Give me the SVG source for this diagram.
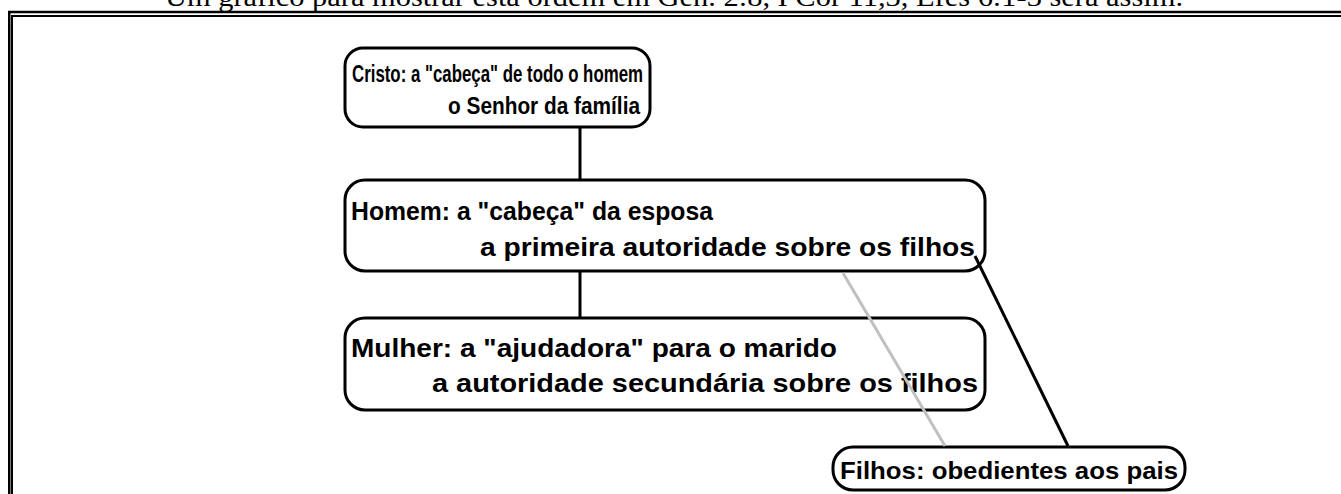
<svg xmlns="http://www.w3.org/2000/svg" width="1341" height="494" viewBox="0 0 1341 494">
<style>
.box{fill:#fff;stroke:#000;stroke-width:3}
.t{font-family:"Liberation Sans",Arial,sans-serif;font-weight:bold;fill:#000}
.n{font-size:24px}
.w{font-size:26px}
.title{font-family:"Liberation Serif","Times New Roman",serif;font-size:27px;fill:#000}
</style>
<rect width="1341" height="494" fill="#fff"/>
<text class="title" x="165" y="6" textLength="1018" lengthAdjust="spacingAndGlyphs">Um gráfico para mostrar esta ordem em Gen. 2:8, I Cor 11,3, Efés 6:1-3 será assim.</text>
<g id="frame" fill="none" stroke="#000">
<rect x="9.25" y="12" width="1400" height="600" stroke-width="2.5"/>
<rect x="12" y="16" width="1400" height="600" stroke-width="2"/>
</g>
<g id="cristo">
<rect class="box" x="345" y="48" width="305" height="79" rx="18"/>
<text class="t n" x="352" y="82" textLength="291" lengthAdjust="spacingAndGlyphs">Cristo: a "cabeça" de todo o homem</text>
<text class="t n" x="448" y="114" textLength="192" lengthAdjust="spacingAndGlyphs">o Senhor da família</text>
</g>
<g id="homem">
<rect class="box" x="345" y="180" width="640" height="91" rx="20"/>
<text class="t w" x="351" y="220" textLength="362" lengthAdjust="spacingAndGlyphs">Homem: a "cabeça" da esposa</text>
<text class="t w" x="480" y="256" textLength="495" lengthAdjust="spacingAndGlyphs">a primeira autoridade sobre os filhos</text>
</g>
<g id="mulher">
<rect class="box" x="345" y="318" width="640" height="92" rx="20"/>
<text class="t w" x="351" y="357" textLength="486" lengthAdjust="spacingAndGlyphs">Mulher: a "ajudadora" para o marido</text>
<text class="t w" x="432" y="392" textLength="546" lengthAdjust="spacingAndGlyphs">a autoridade secundária sobre os filhos</text>
</g>
<g id="filhos">
<rect class="box" x="833" y="447" width="352" height="43" rx="20"/>
<text class="t n" x="840" y="479" textLength="338" lengthAdjust="spacingAndGlyphs">Filhos: obedientes aos pais</text>
</g>
<g id="connectors" fill="none" stroke-width="3">
<line x1="580" y1="128" x2="580" y2="179" stroke="#000"/>
<line x1="580" y1="272" x2="580" y2="317" stroke="#000"/>
<line x1="843" y1="273" x2="945" y2="446" stroke="#c0c0c0"/>
<line x1="975" y1="256" x2="1068" y2="446" stroke="#000"/>
</g>
</svg>
